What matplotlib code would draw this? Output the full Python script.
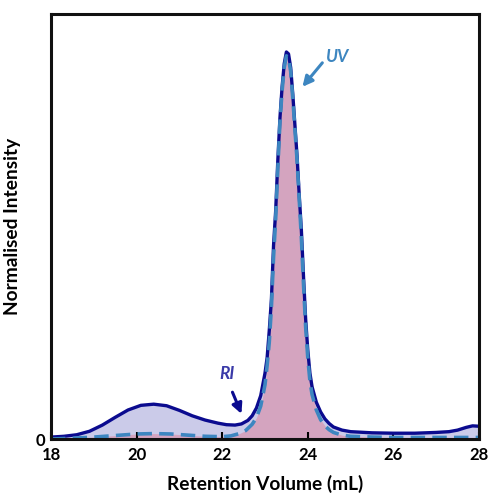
import matplotlib
matplotlib.use("Agg")
import matplotlib.pyplot as plt

plt.rcParams['font.family'] = ['Lato', 'DejaVu Sans']

# Retention volume (mL) and normalised intensity
ri_volume = [18.0, 18.3, 18.6, 18.9, 19.2, 19.5, 19.8, 20.1, 20.4, 20.7, 21.0, 21.3, 21.6,
             21.9, 22.1, 22.3, 22.45, 22.6, 22.7, 22.8, 22.9, 23.0, 23.05, 23.1, 23.15,
             23.2, 23.25, 23.3, 23.35, 23.4, 23.45, 23.5, 23.55, 23.6, 23.65, 23.7, 23.75,
             23.8, 23.85, 23.9, 23.95, 24.0, 24.05, 24.1, 24.2, 24.3, 24.4, 24.5, 24.6,
             24.8, 25.0, 25.5, 26.0, 26.5, 27.0, 27.3, 27.5, 27.7, 27.85, 28.0]
ri_signal = [0.005, 0.007, 0.011, 0.020, 0.036, 0.056, 0.075, 0.087, 0.090, 0.086, 0.074,
             0.060, 0.049, 0.041, 0.037, 0.036, 0.039, 0.048, 0.060, 0.080, 0.112, 0.17,
             0.21, 0.28, 0.36, 0.50, 0.59, 0.72, 0.83, 0.91, 0.97, 1.0, 0.995, 0.96, 0.89,
             0.81, 0.73, 0.63, 0.54, 0.42, 0.31, 0.23, 0.17, 0.135, 0.095, 0.07, 0.052,
             0.040, 0.031, 0.023, 0.019, 0.016, 0.015, 0.015, 0.017, 0.019, 0.023, 0.030,
             0.034, 0.033]

uv_volume = [18.0, 18.5, 19.0, 19.5, 20.0, 20.4, 20.8, 21.2, 21.6, 22.0, 22.2, 22.4, 22.55,
             22.7, 22.8, 22.9, 23.0, 23.05, 23.1, 23.15, 23.2, 23.25, 23.3, 23.35, 23.4,
             23.45, 23.5, 23.55, 23.6, 23.65, 23.7, 23.75, 23.8, 23.85, 23.9, 23.95, 24.0,
             24.05, 24.1, 24.2, 24.3, 24.4, 24.5, 24.6, 24.8, 25.0, 25.5, 26.0, 27.0, 28.0]
uv_signal = [0.000, 0.002, 0.005, 0.009, 0.013, 0.014, 0.013, 0.010, 0.007, 0.006, 0.008,
             0.014, 0.022, 0.038, 0.055, 0.085, 0.14, 0.19, 0.25, 0.34, 0.47, 0.57, 0.70,
             0.82, 0.90, 0.96, 0.99, 0.985, 0.95, 0.88, 0.80, 0.72, 0.62, 0.52, 0.40, 0.29,
             0.21, 0.15, 0.115, 0.075, 0.050, 0.034, 0.024, 0.017, 0.010, 0.007, 0.005,
             0.004, 0.004, 0.004]

x_ticks = [18, 20, 22, 24, 26, 28]

fig = plt.figure(figsize=(4.88, 4.93), dpi=100)
ax = fig.add_axes([0.1045, 0.1095, 0.877, 0.862])

ax.fill_between(ri_volume, ri_signal, 0, color='#cbcbe9', lw=0)
ax.fill_between(uv_volume, uv_signal, 0, color='#d4a4bf', lw=0)
ax.plot(ri_volume, ri_signal, color='#0b0b8f', lw=2.4, solid_capstyle='round')
ax.plot(uv_volume, uv_signal, color='#3d86c0', lw=2.6, dashes=(4, 2))

ax.set_xlim(18, 28)
ax.set_ylim(0, 1.098)
ax.set_xticks(x_ticks)
ax.set_yticks([0])
ax.tick_params(axis='x', direction='in', length=5, width=1.5, labelsize=12, pad=6)
ax.tick_params(axis='y', length=0, labelsize=12, pad=4)
for lab in ax.get_xticklabels() + ax.get_yticklabels():
    lab.set_fontweight('bold')
for sp in ax.spines.values():
    sp.set_linewidth(2.2)
    sp.set_color('#111111')

ax.set_xlabel('Retention Volume (mL)', fontsize=13.8, fontweight='bold', labelpad=8)
ax.set_ylabel('Normalised Intensity', fontsize=13.8, fontweight='bold', labelpad=11)

# labels and arrows
ax.text(24.69, 0.987, 'UV', color='#3d86c0', fontsize=12.5, fontweight='bold',
        style='italic', ha='center', va='center')
ax.annotate('', xy=(23.875, 0.91), xytext=(24.34, 0.972),
            arrowprops=dict(arrowstyle='-|>', color='#3d86c0', lw=2.2, mutation_scale=15,
                            shrinkA=0, shrinkB=0))
ax.text(22.1, 0.168, 'RI', color='#3a3aa8', fontsize=12.5, fontweight='bold',
        style='italic', ha='center', va='center')
ax.annotate('', xy=(22.45, 0.065), xytext=(22.24, 0.121),
            arrowprops=dict(arrowstyle='-|>', color='#0b0b8f', lw=2.2, mutation_scale=15,
                            shrinkA=0, shrinkB=0))

fig.savefig('out.png', dpi=100, facecolor='white')
